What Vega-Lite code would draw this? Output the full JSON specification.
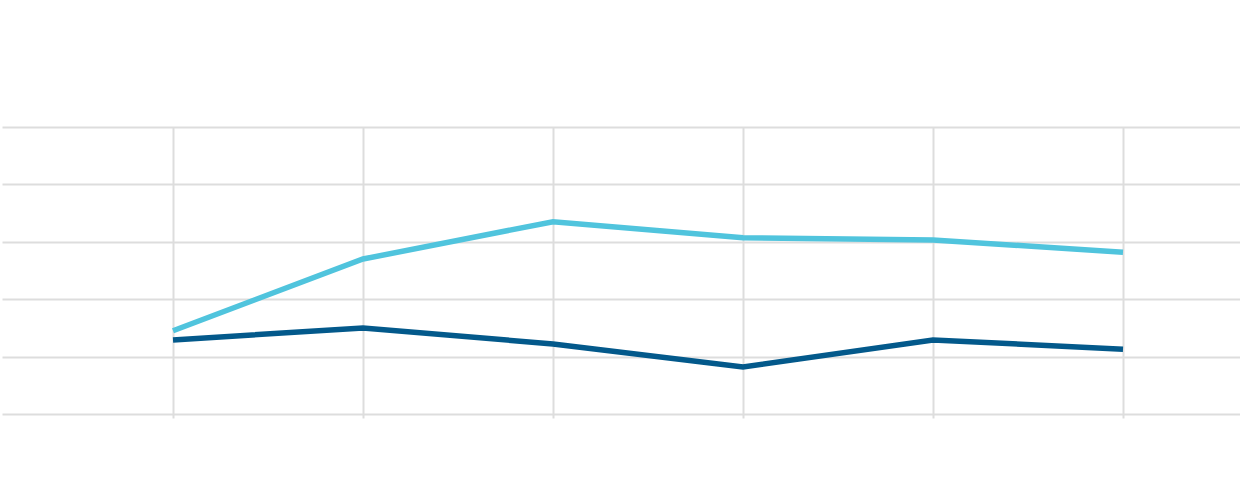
{
  "$schema": "https://vega.github.io/schema/vega-lite/v6.json",
  "autosize": {"type": "none"},
  "padding": {"left": 2, "top": 127, "right": 0, "bottom": 66},
  "width": 1238,
  "height": 287,
  "background": "#ffffff",
  "config": {"view": {"stroke": null}},
  "data": {
    "values": [
      {"step": 0, "series": "A", "value": 1.45},
      {"step": 1, "series": "A", "value": 2.70},
      {"step": 2, "series": "A", "value": 3.35},
      {"step": 3, "series": "A", "value": 3.07},
      {"step": 4, "series": "A", "value": 3.03},
      {"step": 5, "series": "A", "value": 2.82},
      {"step": 0, "series": "B", "value": 1.29},
      {"step": 1, "series": "B", "value": 1.50},
      {"step": 2, "series": "B", "value": 1.22},
      {"step": 3, "series": "B", "value": 0.82},
      {"step": 4, "series": "B", "value": 1.29},
      {"step": 5, "series": "B", "value": 1.13}
    ]
  },
  "mark": {"type": "line", "strokeWidth": 5.5, "strokeCap": "butt", "strokeJoin": "miter"},
  "encoding": {
    "x": {
      "field": "step", "type": "quantitative",
      "scale": {"domain": [-0.9, 5.6158], "nice": false, "zero": false},
      "axis": {
        "values": [0, 1, 2, 3, 4, 5],
        "labels": false, "title": null, "domain": false,
        "ticks": true, "tickSize": 4, "tickColor": "#dddddd", "tickWidth": 2,
        "grid": true, "gridColor": "#dddddd", "gridWidth": 2
      }
    },
    "y": {
      "field": "value", "type": "quantitative",
      "scale": {"domain": [0, 5], "nice": false},
      "axis": {
        "values": [0, 1, 2, 3, 4, 5],
        "labels": false, "title": null, "domain": false, "ticks": false,
        "grid": true, "gridColor": "#dddddd", "gridWidth": 2
      }
    },
    "color": {
      "field": "series", "type": "nominal",
      "scale": {"domain": ["A", "B"], "range": ["#50c4dd", "#03598b"]},
      "legend": null
    }
  }
}
